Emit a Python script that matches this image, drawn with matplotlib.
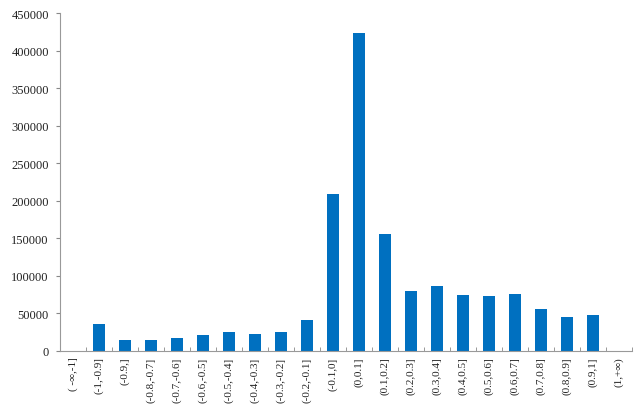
import matplotlib
matplotlib.use("Agg")
import matplotlib.pyplot as plt
import numpy as np

categories = ["( -∞,-1]", "(-1,-0.9]", "(-0.9,]", "(-0.8,-0.7]", "(-0.7,-0.6]",
              "(-0.6,-0.5]", "(-0.5,-0.4]", "(-0.4,-0.3]", "(-0.3,-0.2]", "(-0.2,-0.1]",
              "(-0.1,0]", "(0,0.1]", "(0.1,0.2]", "(0.2,0.3]", "(0.3,0.4]", "(0.4,0.5]",
              "(0.5,0.6]", "(0.6,0.7]", "(0.7,0.8]", "(0.8,0.9]", "(0.9,1]", "(1,+∞)"]
values = [0, 36000, 14600, 14000, 17300, 21300, 24600, 22600, 24600, 40600,
          209000, 424000, 155800, 79900, 86500, 74500, 73200, 76000, 56000, 45300, 48000, 0]

plt.rcParams['font.family'] = ['Liberation Serif', 'DejaVu Serif']

fig = plt.figure(figsize=(6.42, 4.14), dpi=100)
ax = fig.add_axes([0.0935, 0.15, 0.891, 0.816])
x = np.arange(len(categories))
ax.bar(x, values, width=0.43, color="#0070C0")
ax.set_xlim(-0.5, len(categories) - 0.5)
ax.set_ylim(0, 450000)
ax.set_yticks(np.arange(0, 450001, 50000))
ax.tick_params(axis='y', labelsize=9, length=3, color='#888888', labelcolor='#222222', pad=5)
ax.set_xticks(x)
ax.set_xticklabels(categories, rotation=90, fontsize=8, color='#222222')
ax.tick_params(axis='x', length=0, pad=4)
ax.set_xticks(np.arange(-0.5, len(categories), 1), minor=True)
ax.tick_params(axis='x', which='minor', length=3, color='#888888', direction='in')
for s in ['top', 'right']:
    ax.spines[s].set_visible(False)
for s in ['left', 'bottom']:
    ax.spines[s].set_color('#999999')
    ax.spines[s].set_linewidth(0.8)

fig.savefig("out.png", dpi=100)
